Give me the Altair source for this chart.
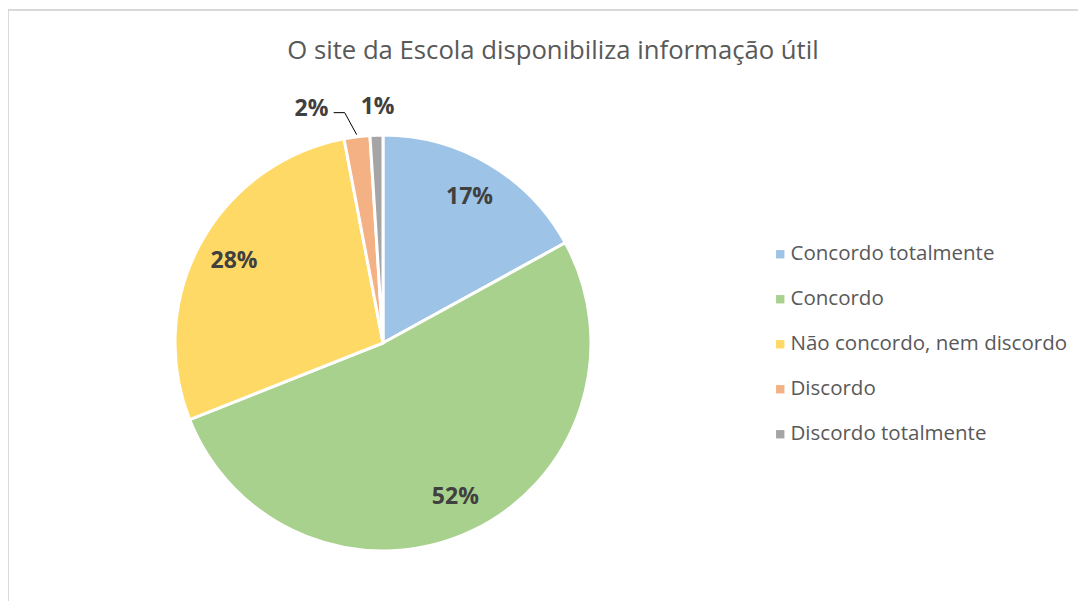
import altair as alt
import pandas as pd

categories = ["Concordo totalmente", "Concordo", "Não concordo, nem discordo", "Discordo", "Discordo totalmente"]
values = [17, 52, 28, 2, 1]
colors = ["#9DC3E6", "#A9D18E", "#FFD966", "#F4B183", "#A5A5A5"]
title_text = "O site da Escola disponibiliza informação útil"

W, H = 1070, 593
CX, CY, R = 375, 335, 208

df = pd.DataFrame({"cat": categories, "value": values, "idx": list(range(len(values)))})
df["label"] = df["value"].astype(str) + "%"

base = alt.Chart(df).transform_window(
    cum="sum(value)", sort=[alt.SortField("idx")]
).transform_joinaggregate(total="sum(value)").transform_calculate(
    mid="2*PI*((datum.cum - datum.value/2)/datum.total)"
)

color = alt.Color(
    "cat:N",
    scale=alt.Scale(domain=categories, range=colors),
    sort=categories,
    legend=alt.Legend(
        title=None, orient="none", legendX=762, legendY=236,
        symbolType="square", symbolSize=70, symbolStrokeWidth=0,
        labelFont="Open Sans", labelFontSize=20.5, labelColor="#595959",
        rowPadding=24, labelOffset=0, labelLimit=400,
    ),
)

pie = alt.Chart(df).mark_arc(radius=R, stroke="white", strokeWidth=3).encode(
    theta=alt.Theta("value:Q", stack=True),
    order=alt.Order("idx:Q"),
    color=color,
    x=alt.value(CX), y=alt.value(CY),
)

def pos():
    return dict(
        x=alt.X("px:Q", scale=None),
        y=alt.Y("py:Q", scale=None),
    )

big = base.transform_filter("datum.value >= 5").transform_calculate(
    px=f"{CX} + 170*sin(datum.mid)", py=f"{CY} - 170*cos(datum.mid)"
).mark_text(font="Open Sans", fontWeight="bold", fontSize=23, color="#404040").encode(
    text="label:N", **pos()
)

small1 = base.transform_filter("datum.value < 5 && datum.value >= 2").transform_calculate(
    px=f"{CX} + 236*sin(datum.mid)", py=f"{CY} - 236*cos(datum.mid)"
).mark_text(font="Open Sans", fontWeight="bold", fontSize=23, color="#404040", dx=-42).encode(
    text="label:N", **pos()
)

small2 = base.transform_filter("datum.value < 2").transform_calculate(
    px=f"{CX} + 236*sin(datum.mid)", py=f"{CY} - 236*cos(datum.mid)"
).mark_text(font="Open Sans", fontWeight="bold", fontSize=23, color="#404040", dx=2).encode(
    text="label:N", **pos()
)

lead = base.transform_filter("datum.value < 5 && datum.value >= 2").transform_calculate(
    ex=f"{CX} + 210*sin(datum.mid)", ey=f"{CY} - 210*cos(datum.mid)"
).transform_calculate(
    kx="datum.ex - 12", ky="datum.ey - 22"
)
lead1 = lead.mark_rule(color="black", strokeWidth=1).encode(
    x=alt.X("ex:Q", scale=None), y=alt.Y("ey:Q", scale=None),
    x2="kx:Q", y2="ky:Q",
)
lead2 = lead.transform_calculate(hx="datum.kx - 11").mark_rule(color="black", strokeWidth=1).encode(
    x=alt.X("kx:Q", scale=None), y=alt.Y("ky:Q", scale=None),
    x2="hx:Q", y2="ky:Q",
)

title = alt.Chart(pd.DataFrame({"t": [title_text]})).mark_text(
    font="Open Sans", fontSize=25.7, color="#595959"
).encode(text="t:N", x=alt.value(545), y=alt.value(43))

border = alt.Chart(pd.DataFrame({"t": [0]})).mark_rect(
    fill=None, stroke="#D9D9D9", strokeWidth=2
).encode(x=alt.value(0), x2=alt.value(W + 20), y=alt.value(2), y2=alt.value(H + 20))

chart = alt.layer(border, pie, big, small1, small2, lead1, lead2, title).properties(
    width=W, height=H, autosize=alt.AutoSizeParams(type="none"), padding=0
).configure_view(stroke=None)

chart.save("out.html", embed_options={"renderer": "svg", "actions": False})
